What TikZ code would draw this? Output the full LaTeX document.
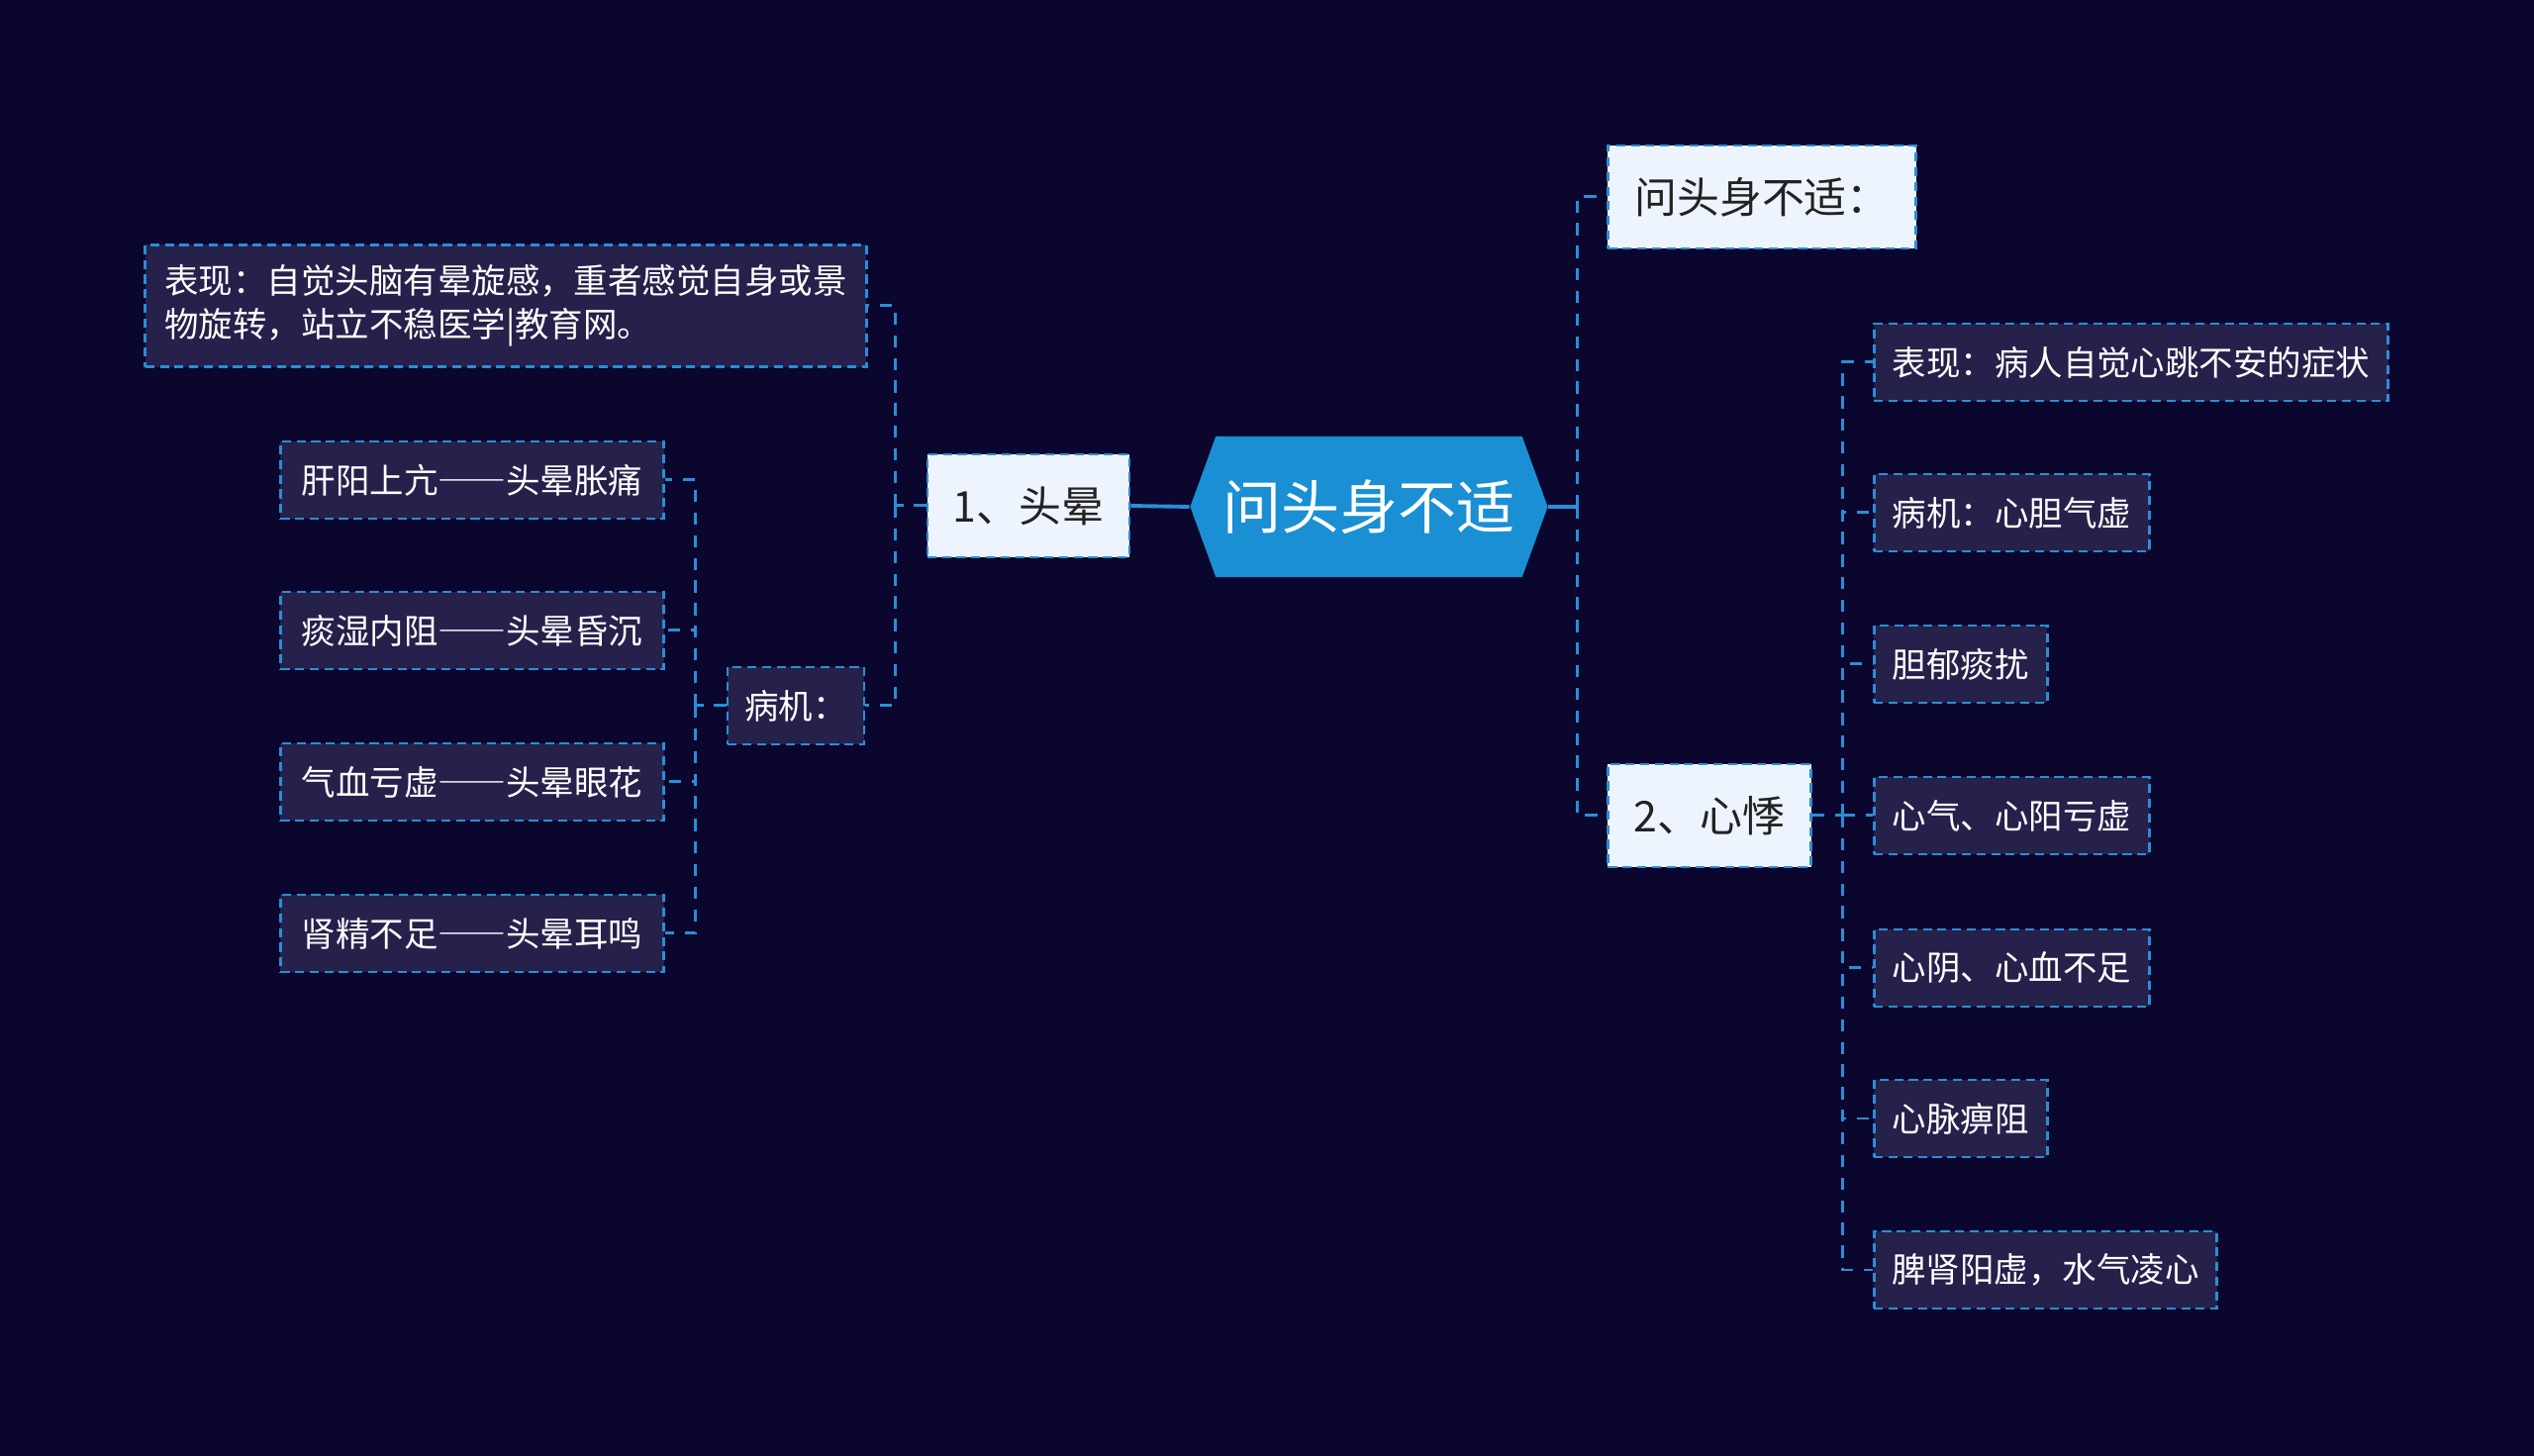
\documentclass[tikz,border=0pt]{standalone}
\usepackage{fontspec}
\setmainfont{Noto Sans CJK SC}
\usetikzlibrary{shapes.symbols}
\definecolor{canvas}{HTML}{0A062E}
\definecolor{hubblue}{HTML}{1A8FD3}
\definecolor{linkblue}{HTML}{2A8ED6}
\definecolor{leaffill}{HTML}{25214B}
\definecolor{topicfill}{HTML}{EEF4FD}
\definecolor{topictext}{HTML}{222222}
\newcommand{\wdash}{{\addfontfeature{RawFeature=+fwid}——}}
\tikzset{
    hub/.style={signal, signal to=west and east, signal pointer angle=140, fill=hubblue, text=white,
                minimum width=3.61cm, minimum height=1.42cm, inner sep=0pt, font=\fontsize{16.8}{20}\selectfont},
    topic/.style={draw=linkblue, line width=0.75pt, dash pattern=on 2.6pt off 1.6pt, fill=topicfill,
                  text=topictext, inner sep=0pt, minimum height=1.04cm, font=\fontsize{12.2}{15}\selectfont},
    leaf/.style={draw=linkblue, line width=0.75pt, dash pattern=on 2.6pt off 1.6pt, fill=leaffill,
                 text=white, inner sep=0pt, minimum height=0.78cm, font=\fontsize{9.8}{12.5}\selectfont},
    link/.style={draw=linkblue, line width=0.85pt, dash pattern=on 3.5pt off 3pt},
    trunk/.style={draw=linkblue, line width=1.1pt}
}
\begin{document}
\begin{tikzpicture}[x=0.01cm, y=-0.01cm]
    \fill[canvas] (0,0) rectangle (2560,1471);
    \useasboundingbox (0,0) rectangle (2560,1471);

    % Nodes
    \node[hub] (centre) at (1383,512) {问头身不适};

    \node[topic, minimum width=2.04cm] (toutong) at (1039,511) {1、头晕};
    \node[topic, minimum width=3.11cm] (wentou) at (1780,199) {问头身不适：};
    \node[topic, minimum width=2.05cm] (xinji) at (1727,824) {2、心悸};

    \node[leaf, minimum width=7.28cm, minimum height=1.23cm, align=left] (tbiaoxian) at (511,309)
        {表现：自觉头脑有晕旋感，重者感觉自身或景\\物旋转，站立不稳医学|教育网。};
    \node[leaf, minimum width=1.38cm] (tbingji) at (804,713) {病机：};

    \node[leaf, minimum width=3.87cm] (ganyang) at (477,485) {肝阳上亢\wdash 头晕胀痛};
    \node[leaf, minimum width=3.87cm] (tanshi) at (477,637) {痰湿内阻\wdash 头晕昏沉};
    \node[leaf, minimum width=3.87cm] (qixue) at (477,790) {气血亏虚\wdash 头晕眼花};
    \node[leaf, minimum width=3.87cm] (shenjing) at (477,943) {肾精不足\wdash 头晕耳鸣};

    \node[leaf, anchor=west, minimum width=5.19cm] (xbiaoxian) at (1892,366) {表现：病人自觉心跳不安的症状};
    \node[leaf, anchor=west, minimum width=2.78cm] (xbingji) at (1892,518) {病机：心胆气虚};
    \node[leaf, anchor=west, minimum width=1.75cm] (danyu) at (1892,671) {胆郁痰扰};
    \node[leaf, anchor=west, minimum width=2.78cm] (xinqi) at (1892,824) {心气、心阳亏虚};
    \node[leaf, anchor=west, minimum width=2.78cm] (xinyin) at (1892,978) {心阴、心血不足};
    \node[leaf, anchor=west, minimum width=1.75cm] (xinmai) at (1892,1130) {心脉痹阻};
    \node[leaf, anchor=west, minimum width=3.46cm] (pishen) at (1892,1283) {脾肾阳虚，水气凌心};

    % edges
    \draw[trunk] (centre.west) -- (toutong.east);
    \draw[trunk] (centre.east) -- ++(29,0) coordinate (rj);
    \draw[link] (rj) |- (wentou.west);
    \draw[link] (rj) |- (xinji.west);

    \draw[link] (toutong.west) -- ++(-31,0) coordinate (lj);
    \draw[link] (lj) |- (tbiaoxian.east);
    \draw[link] (lj) |- (tbingji.east);

    \draw[link] (tbingji.west) -- ++(-31,0) coordinate (bj);
    \foreach \n in {ganyang, tanshi, qixue, shenjing}
        \draw[link] (bj) |- (\n.east);

    \draw[link] (xinji.east) -- ++(31,0) coordinate (xj);
    \foreach \n in {xbiaoxian, xbingji, danyu, xinqi, xinyin, xinmai, pishen}
        \draw[link] (xj) |- (\n.west);
\end{tikzpicture}
\end{document}
